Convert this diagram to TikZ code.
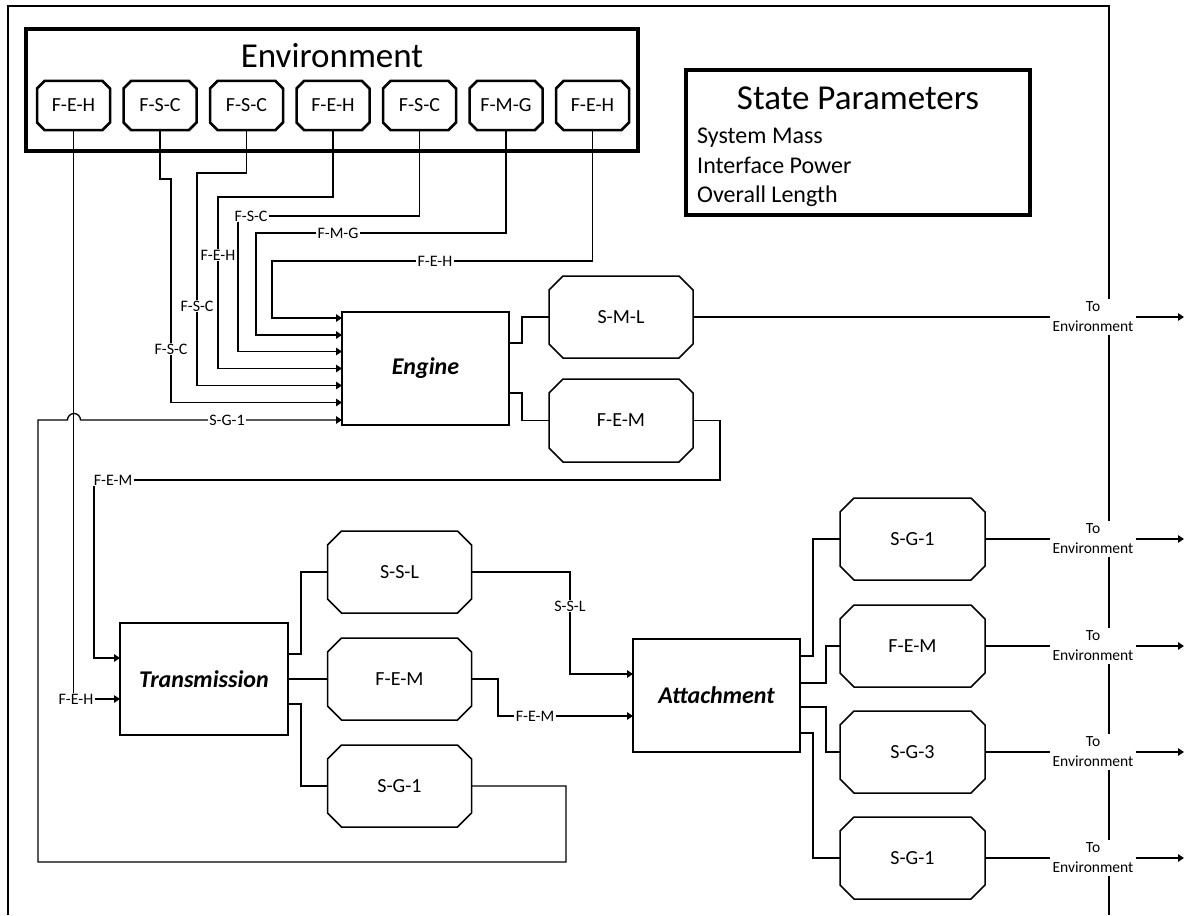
\documentclass[tikz,border=0pt]{standalone}
\usepackage{fontspec}
\setmainfont{Carlito}
\usetikzlibrary{arrows.meta,calc}

\tikzset{
  frameline/.style={line width=2.6pt},
  heavybox/.style={draw, line width=3.4pt, inner sep=0pt, outer sep=0pt},
  block/.style={draw, line width=1.7pt, inner sep=0pt, outer sep=0pt,
    font=\fontsize{24}{29}\selectfont\bfseries\itshape},
  octlabel/.style={inner sep=0pt, outer sep=0pt, font=\fontsize{20}{24}\selectfont},
  conn/.style={line width=1.3pt},
  arr/.style={conn, -{Triangle[length=6pt,width=7.5pt]}},
  tag/.style={fill=white, inner xsep=1.5pt, inner ysep=1pt, font=\fontsize{16}{19}\selectfont},
  envout/.style={fill=white, align=center, inner xsep=2pt, inner ysep=3pt,
    font=\fontsize{15.5}{20}\selectfont},
  bigtitle/.style={font=\fontsize{35}{42}\selectfont},
  listitem/.style={font=\fontsize{24}{29}\selectfont, anchor=base west, inner sep=0pt},
}

% octagonal node: [line style]{name}{x,y}{width}{height}{chamfer}{text}
\newcommand{\octbox}[7][line width=1.5pt]{%
  \node[octlabel, minimum width=#4, minimum height=#5] (#2) at (#3) {#7};
  \draw[#1] ([xshift=#6]#2.north west) -- ([xshift=-#6]#2.north east)
    -- ([yshift=-#6]#2.north east) -- ([yshift=#6]#2.south east)
    -- ([xshift=-#6]#2.south east) -- ([xshift=#6]#2.south west)
    -- ([yshift=#6]#2.south west) -- ([yshift=-#6]#2.north west) -- cycle;
}

\begin{document}
\begin{tikzpicture}[x=1pt, y=-1pt]
\useasboundingbox (0,0) rectangle (1190,915);

% system boundary
\draw[frameline] (8,915) -- (8,6) -- (1109,6) -- (1109,915);

% environment block with its flows
\node[heavybox, minimum width=612pt, minimum height=122pt] (env) at (332,90) {};
\node[bigtitle, anchor=base, inner sep=0pt] (envtitle) at (332,68) {Environment};
\octbox[line width=2.5pt]{e1}{73.5,105.5}{73pt}{49pt}{7.5pt}{F-E-H}
\octbox[line width=2.5pt]{e2}{160,105.5}{73pt}{49pt}{7.5pt}{F-S-C}
\octbox[line width=2.5pt]{e3}{246.5,105.5}{73pt}{49pt}{7.5pt}{F-S-C}
\octbox[line width=2.5pt]{e4}{333,105.5}{73pt}{49pt}{7.5pt}{F-E-H}
\octbox[line width=2.5pt]{e5}{419.5,105.5}{73pt}{49pt}{7.5pt}{F-S-C}
\octbox[line width=2.5pt]{e6}{506,105.5}{73pt}{49pt}{7.5pt}{F-M-G}
\octbox[line width=2.5pt]{e7}{592.5,105.5}{73pt}{49pt}{7.5pt}{F-E-H}

% state parameters
\node[heavybox, minimum width=344pt, minimum height=145pt] (state) at (858,142.5) {};
\node[bigtitle, anchor=base, inner sep=0pt] (statetitle) at (858,110) {State Parameters};
\node[listitem] (p1) at (697,143) {System Mass};
\node[listitem] (p2) at (697,173) {Interface Power};
\node[listitem] (p3) at (697,202) {Overall Length};

% components
\node[block, minimum width=167pt, minimum height=113pt] (engine) at (425.5,368.5) {Engine};
\node[block, minimum width=168pt, minimum height=112pt] (trans) at (204,679) {Transmission};
\node[block, minimum width=167pt, minimum height=113pt] (att) at (716.5,695.5) {Attachment};

% component outputs
\octbox{sml}{621,317}{144pt}{82pt}{14pt}{S-M-L}
\octbox{fem1}{621,420.5}{144pt}{83pt}{14pt}{F-E-M}
\octbox{ssl}{399.5,572}{144pt}{82pt}{14pt}{S-S-L}
\octbox{fem2}{399.5,679}{144pt}{82pt}{14pt}{F-E-M}
\octbox{sg1a}{399.5,786}{144pt}{82pt}{14pt}{S-G-1}
\octbox{sg1b}{912.5,539}{145pt}{82pt}{14pt}{S-G-1}
\octbox{fem3}{912.5,646}{145pt}{82pt}{14pt}{F-E-M}
\octbox{sg3}{912.5,752}{145pt}{82pt}{14pt}{S-G-3}
\octbox{sg1c}{912.5,858}{145pt}{82pt}{14pt}{S-G-1}

% flows from the environment into the engine
\draw[arr] (e1.south) -- (73.5,699) -- (trans.west |- 0,699);
\draw[arr] (e2.south) -- (160,179) -- (171,179) -- (171,402.5) -- (engine.west |- 0,402.5);
\draw[arr] (e3.south) -- (246.5,173) -- (197,173) -- (197,385.5) -- (engine.west |- 0,385.5);
\draw[arr] (e4.south) -- (333,197) -- (218,197) -- (218,368.5) -- (engine.west |- 0,368.5);
\draw[arr] (e5.south) -- (419.5,216) -- (238,216) -- (238,351.5) -- (engine.west |- 0,351.5);
\draw[arr] (e6.south) -- (506,233) -- (256,233) -- (256,335) -- (engine.west |- 0,335);
\draw[arr] (e7.south) -- (592.5,261) -- (272,261) -- (272,318) -- (engine.west |- 0,318);

% engine outputs
\draw[conn] (engine.east |- 0,343) -- (522,343) |- (sml.west);
\draw[conn] (engine.east |- 0,393) -- (522,393) |- (fem1.west);
\draw[arr] (fem1.east) -- (720,420.5) -- (720,480) -- (94,480) -- (94,658) -- (trans.west |- 0,658);

% transmission outputs
\draw[conn] (trans.east |- 0,654) -- (301,654) |- (ssl.west);
\draw[conn] (trans.east) -- (fem2.west);
\draw[conn] (trans.east |- 0,704) -- (301,704) |- (sg1a.west);
\draw[arr] (ssl.east) -- (570,572) -- (570,674) -- (att.west |- 0,674);
\draw[arr] (fem2.east) -- (498,679) -- (498,716) -- (att.west |- 0,716);
\draw[arr] (sg1a.east) -- (566,786) -- (566,862) -- (38,862) -- (38,420)
  -- (67.5,420) arc[start angle=180, end angle=0, radius=6.5pt]
  -- (engine.west |- 0,420);

% attachment outputs
\draw[conn] (att.east |- 0,656) -- (813,656) |- (sg1b.west);
\draw[conn] (att.east |- 0,683) -- (826,683) |- (fem3.west);
\draw[conn] (att.east |- 0,707) -- (826,707) |- (sg3.west);
\draw[conn] (att.east |- 0,733) -- (813,733) |- (sg1c.west);

% flow labels
\node[tag] (l1) at (76,699) {F-E-H};
\node[tag] (l2) at (171,349) {F-S-C};
\node[tag] (l3) at (197,306) {F-S-C};
\node[tag] (l4) at (218,255) {F-E-H};
\node[tag] (l5) at (251,216) {F-S-C};
\node[tag] (l6) at (338,233) {F-M-G};
\node[tag] (l7) at (435,261) {F-E-H};
\node[tag] (l8) at (227,420) {S-G-1};
\node[tag] (l9) at (113,480) {F-E-M};
\node[tag] (l10) at (570,606) {S-S-L};
\node[tag] (l11) at (535,716) {F-E-M};

% exits to the environment
\foreach \n/\src/\yy in {1/sml/317, 2/sg1b/539, 3/fem3/646, 4/sg3/752, 5/sg1c/858} {
  \node[envout] (te\n) at (1093,\yy) {To\\Environment};
  \coordinate (out\n) at (1184,\yy);
  \draw[conn] (\src.east) -- (te\n.west);
  \draw[arr] (te\n.east) -- (out\n);
}
\end{tikzpicture}
\end{document}
